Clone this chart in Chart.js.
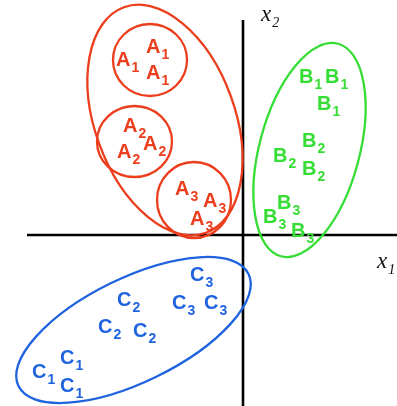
<!DOCTYPE html>
<html>
<head>
<meta charset="utf-8">
<script src="https://cdn.jsdelivr.net/npm/chart.js@4/dist/chart.umd.min.js"></script>
<style>
html,body{margin:0;padding:0;background:#fff;}
#wrap{width:397px;height:406px;}
</style>
</head>
<body>
<div id="wrap"><canvas id="c" width="397" height="406"></canvas></div>
<script>
// ---- data (units: origin at axes crossing, y up) ----
const groupNames = ["A1","A2","A3","B1","B2","B3","C1","C2","C3"];
const groupLetters = ["A","A","A","B","B","B","C","C","C"];
const groupSubs = ["1","2","3","1","2","3","1","2","3"];
const groupColors = ["red","red","red","green","green","green","blue","blue","blue"];
const A1x = [-97,-127,-97],  A1y = [182,169,156];
const A2x = [-120,-100,-126], A2y = [103,85,77];
const A3x = [-68,-40,-53],   A3y = [40,28,10];
const B1x = [56,82,74],      B1y = [152,152,125];
const B2x = [59,30,59],      B2y = [88,73,60];
const B3x = [34,20,48],      B3y = [26,12,-2];
const C1x = [-183,-211,-183], C1y = [-129,-143,-157];
const C2x = [-126,-145,-110], C2y = [-71,-98,-102];
const C3x = [-53,-71,-39],   C3y = [-46,-74,-74];
const groupX = [A1x,A2x,A3x,B1x,B2x,B3x,C1x,C2x,C3x];
const groupY = [A1y,A2y,A3y,B1y,B2y,B3y,C1y,C2y,C3y];

// enclosing ellipses: centre, semi-axes, rotation of first axis (deg, ccw)
const ellipseColor = ["red","red","red","red","green","blue"];
const ellipseCx = [-78,-93,-108.5,-49,66.5,-109.5];
const ellipseCy = [115,175,93.5,35,85,-95];
const ellipseA  = [120,37,37.5,37,110,128];
const ellipseB  = [70,36,35.5,38,50,52];
const ellipseRot = [110,0,0,0,75,26];

// axes
const axisXFrom = -216, axisXTo = 154;
const axisYFrom = -171, axisYTo = 215;
const axisLabels = ["x","x"];
const axisLabelSubs = ["1","2"];

const palette = {red:"#ec3d1c", green:"#35dd35", blue:"#1f64de"};

const datasets = groupNames.map((n,i)=>({
  label:n,
  data: groupX[i].map((x,j)=>({x:x,y:groupY[i][j]})),
  pointRadius:0, pointHoverRadius:0,
  letter: groupLetters[i], sub: groupSubs[i], color: palette[groupColors[i]]
}));

const drawPlugin = {
  id:'diagram',
  beforeDatasetsDraw(chart){
    const ctx = chart.ctx, xs = chart.scales.x, ys = chart.scales.y;
    ctx.save();
    // axes
    ctx.strokeStyle = "#000"; ctx.lineWidth = 2.6; ctx.lineCap = "butt";
    ctx.beginPath();
    ctx.moveTo(xs.getPixelForValue(axisXFrom), ys.getPixelForValue(0));
    ctx.lineTo(xs.getPixelForValue(axisXTo), ys.getPixelForValue(0));
    ctx.moveTo(xs.getPixelForValue(0), ys.getPixelForValue(axisYFrom));
    ctx.lineTo(xs.getPixelForValue(0), ys.getPixelForValue(axisYTo));
    ctx.stroke();
    // ellipses
    ctx.lineWidth = 2.3;
    for (let i=0;i<ellipseCx.length;i++){
      const cx = xs.getPixelForValue(ellipseCx[i]);
      const cy = ys.getPixelForValue(ellipseCy[i]);
      const rx = Math.abs(xs.getPixelForValue(ellipseCx[i]+ellipseA[i]) - cx);
      const ry = Math.abs(ys.getPixelForValue(ellipseCy[i]+ellipseB[i]) - cy);
      ctx.strokeStyle = palette[ellipseColor[i]];
      ctx.beginPath();
      ctx.ellipse(cx, cy, rx, ry, -ellipseRot[i]*Math.PI/180, 0, Math.PI*2);
      ctx.stroke();
    }
    // axis labels
    ctx.fillStyle = "#111";
    ctx.textBaseline = "alphabetic"; ctx.textAlign = "left";
    const axPos = [[xs.getPixelForValue(axisXTo)-20, ys.getPixelForValue(0)+33],
                   [xs.getPixelForValue(0)+18, ys.getPixelForValue(axisYTo)+1]];
    for (let k=0;k<2;k++){
      ctx.font = "italic 23px 'Liberation Serif'";
      ctx.fillText(axisLabels[k], axPos[k][0], axPos[k][1]);
      const w = ctx.measureText(axisLabels[k]).width;
      ctx.font = "italic 14px 'Liberation Serif'";
      ctx.fillText(axisLabelSubs[k], axPos[k][0]+w+1, axPos[k][1]+6);
    }
    ctx.restore();
  },
  afterDatasetsDraw(chart){
    const ctx = chart.ctx;
    ctx.save();
    ctx.textBaseline = "alphabetic"; ctx.textAlign = "left";
    chart.data.datasets.forEach((ds,i)=>{
      const meta = chart.getDatasetMeta(i);
      meta.data.forEach(pt=>{
        ctx.fillStyle = ds.color;
        ctx.font = "bold 20px 'Liberation Sans'";
        ctx.fillText(ds.letter, pt.x, pt.y);
        const w = ctx.measureText(ds.letter).width;
        ctx.font = "bold 14px 'Liberation Sans'";
        ctx.fillText(ds.sub, pt.x + w + 1, pt.y + 6);
      });
    });
    ctx.restore();
  }
};

new Chart(document.getElementById('c'), {
  type:'scatter',
  data:{datasets},
  options:{
    responsive:false, animation:false,
    layout:{padding:0},
    plugins:{legend:{display:false}, tooltip:{enabled:false}},
    events:[],
    scales:{
      x:{type:'linear', min:-243, max:154, display:false},
      y:{type:'linear', min:-171, max:235, display:false}
    }
  },
  plugins:[drawPlugin]
});
</script>
</body>
</html>
